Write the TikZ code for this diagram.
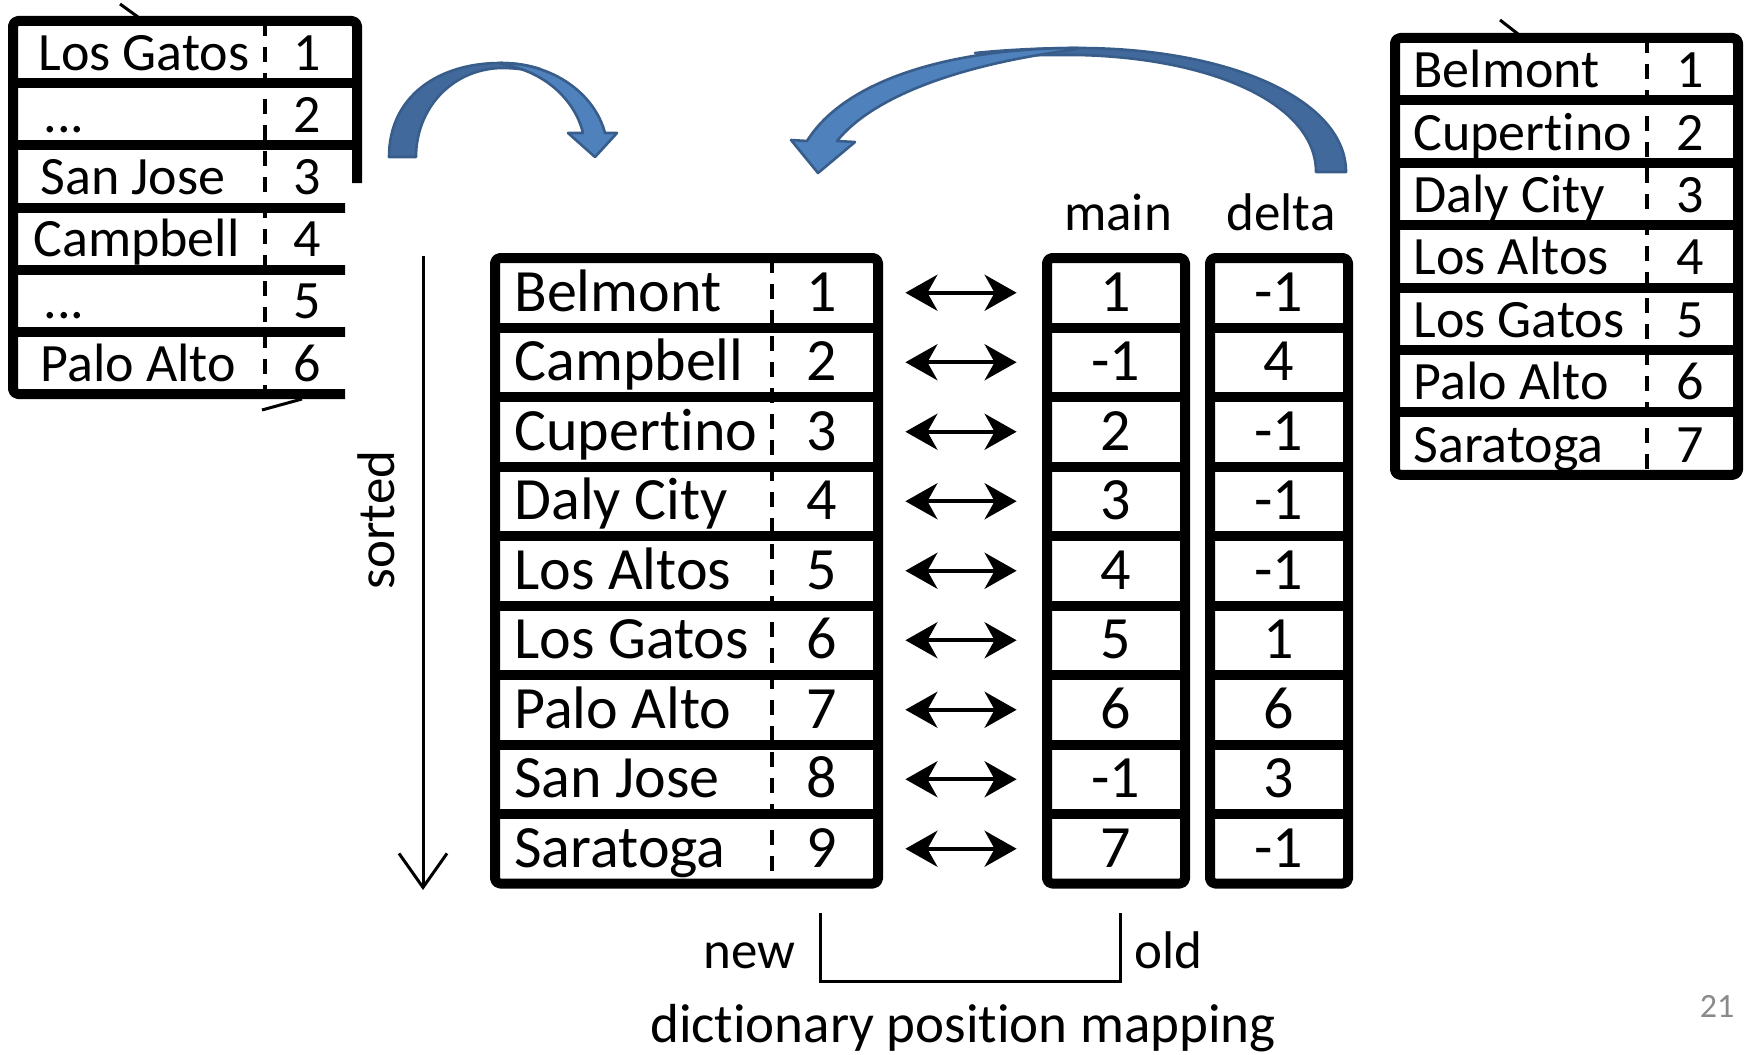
\documentclass[tikz,border=0pt]{standalone}
\usepackage{fontspec}
\setmainfont{Carlito}[Ligatures={NoCommon,NoContextual}, Contextuals=NoAlternate]
\usetikzlibrary{arrows.meta}
\definecolor{arrowfill}{HTML}{4F81BD}
\definecolor{arrowdark}{HTML}{41699B}
\definecolor{arrowline}{HTML}{385D8A}
\definecolor{pagegray}{HTML}{8A8A8A}
\newcommand\mydotstxt{.\kern0pt.\kern0pt.}
\begin{document}
\begin{tikzpicture}[x=0.5pt,y=-0.5pt,
 tbl/.style={line width=5pt, rounded corners=2.5pt, line join=round},
 sepline/.style={line width=5pt},
 divider/.style={line width=1.8pt, dash pattern=on 7.5pt off 5.5pt},
 mainname/.style={font=\fontsize{30}{30}\selectfont, inner sep=0pt, anchor=base west},
 mainnum/.style={font=\fontsize{30}{30}\selectfont, inner sep=0pt, anchor=base},
 sidename/.style={font=\fontsize{27}{27}\selectfont, inner sep=0pt, anchor=base west},
 sidenum/.style={font=\fontsize{27}{27}\selectfont, inner sep=0pt, anchor=base},
 lbl/.style={font=\fontsize{26.5}{26.5}\selectfont, inner sep=0pt},
 rowcell/.style={inner sep=0pt, minimum width=191.5pt, minimum height=34.75pt},
 colcell/.style={inner sep=0pt, minimum width=69pt, minimum height=34.75pt},
 dbl/.style={line width=2pt, {Stealth[length=16pt,width=18pt,inset=5pt]}-{Stealth[length=16pt,width=18pt,inset=5pt]}},
 sortarrow/.style={line width=1.5pt, -{Straight Barb[length=17pt,width=24pt]}},
 bluearrow/.style={draw=arrowline, line width=1.3pt, line join=round},
 frag/.style={line width=1.5pt},
]
\useasboundingbox (0,0) rectangle (1744,1054);

% ---------------- left (clipped) table ----------------
\begin{scope}
\clip (0,0) -- (380,0) -- (380,183) -- (345,183) -- (345,420) -- (0,420) -- cycle;
\draw[frag] (120,4) -- (138,17);
\draw[frag] (262,410) -- (302,399);
\draw[divider] (265,21) -- (265,394);
\draw[tbl] (13,21) rectangle (357,394);
\foreach \k in {1,...,5}{
  \draw[sepline] (13,21+62.2*\k) -- (357,21+62.2*\k);
}
\foreach \n/\x/\v [count=\k] in {Los Gatos/38/1, \mydotstxt/43/2, San Jose/40/3, Campbell/33/4, \mydotstxt/43/5, Palo Alto/40/6}{
  \pgfmathsetmacro\yb{21+62.2*(\k-0.5)+18}
  \node[sidename] (lname\k) at (\x,\yb) {\n};
  \node[sidenum] (lnum\k) at (307,\yb) {\v};
}
\end{scope}

% ---------------- right table ----------------
\draw[frag] (1500,20) -- (1518,34);
\draw[divider] (1647,38) -- (1647,475);
\draw[tbl] (1395,38) rectangle (1738,474.8);
\foreach \k in {1,...,6}{
  \draw[sepline] (1395,38+62.4*\k) -- (1738,38+62.4*\k);
}
\foreach \n [count=\k] in {Belmont, Cupertino, Daly City, Los Altos, Los Gatos, Palo Alto, Saratoga}{
  \pgfmathsetmacro\yb{38+62.4*(\k-0.5)+18.5}
  \node[sidename] (rname\k) at (1413,\yb) {\n};
  \node[sidenum] (rnum\k) at (1690,\yb) {\k};
}

% ---------------- main table and columns ----------------
\draw[divider] (772,258) -- (772,883.5);
\draw[tbl] (495,258) rectangle (878,883.5);
\draw[tbl] (1047,258) rectangle (1185,883.5);
\draw[tbl] (1210,258) rectangle (1348,883.5);
\foreach \k in {1,...,8}{
  \draw[sepline] (495,258+69.5*\k) -- (878,258+69.5*\k);
  \draw[sepline] (1047,258+69.5*\k) -- (1185,258+69.5*\k);
  \draw[sepline] (1210,258+69.5*\k) -- (1348,258+69.5*\k);
}
\foreach \n/\a/\b [count=\k] in {Belmont/1/-1, Campbell/-1/4, Cupertino/2/-1, Daly City/3/-1, Los Altos/4/-1, Los Gatos/5/1, Palo Alto/6/6, San Jose/-1/3, Saratoga/7/-1}{
  \pgfmathsetmacro\yc{258+69.5*(\k-0.5)}
  \pgfmathsetmacro\yb{\yc+18.5}
  \node[rowcell] (row\k) at (686.5,\yc) {};
  \node[colcell] (mcell\k) at (1116,\yc) {};
  \node[mainname] (mname\k) at (514,\yb) {\n};
  \node[mainnum] (mnum\k) at (822,\yb) {\k};
  \node[mainnum] (mmain\k) at (1116,\yb) {\a};
  \node[mainnum] (mdelta\k) at (1279,\yb) {\b};
  \draw[dbl] ([xshift=13.5pt]row\k.east) -- ([xshift=-15pt]mcell\k.west);
}

% column labels
\node[lbl, anchor=base] (lmain) at (1118,230) {main};
\node[lbl, anchor=base] (ldelta) at (1281,230) {delta};

% sorted arrow
\coordinate (stop) at (423,256);
\coordinate (sbot) at (423,890);
\draw[sortarrow] (stop) -- (sbot);
\node[lbl, rotate=90] (lsorted) at (376,520) {sorted};

% new / old bracket
\coordinate (bl) at (820,913);
\coordinate (br) at (1120,913);
\coordinate (bbl) at (820,981);
\coordinate (bbr) at (1120,981);
\draw[line width=1.5pt] (bl) -- (bbl) -- (bbr) -- (br);
\node[lbl, anchor=base east] (lnew) at (796,968) {new};
\node[lbl, anchor=base west] (lold) at (1134,968) {old};
\node[font=\fontsize{27.5}{27.5}\selectfont, inner sep=0pt, anchor=base] (ldict) at (963,1042) {dictionary position mapping};

% page number
\node[font=\fontsize{17}{17}\selectfont, text=pagegray, inner sep=0pt, anchor=base] (pnum) at (1717,1017) {21};

% ---------------- blue curved arrows ----------------
\path[bluearrow, fill=arrowdark]
  (389,157) .. controls (389,95) and (440,63) .. (500,63)
  .. controls (515,63) and (528,65) .. (540,69)
  -- (536,72) .. controls (525,69) and (512,68) .. (500,68)
  .. controls (450,70) and (416,110) .. (416,157) -- cycle;
\path[bluearrow, fill=arrowfill]
  (605,133) -- (617,133) -- (595,157) -- (568,133) -- (583,133)
  .. controls (575,100) and (545,72) .. (505,65)
  -- (500,63) .. controls (555,63) and (595,95) .. (605,133) -- cycle;

\path[bluearrow, fill=arrowdark]
  (1346,172) .. controls (1346,100) and (1230,48) .. (1078,48)
  .. controls (1040,48) and (1005,50) .. (975,53)
  -- (985,56) .. controls (1020,55) and (1050,55) .. (1078,55)
  .. controls (1215,58) and (1316,105) .. (1316,172) -- cycle;
\path[bluearrow, fill=arrowfill]
  (807,141) -- (791,140) -- (818,173) -- (855,142) -- (837,141)
  .. controls (870,100) and (950,66) .. (1072,50)
  -- (1078,48) .. controls (950,48) and (845,80) .. (807,141) -- cycle;
\end{tikzpicture}
\end{document}
